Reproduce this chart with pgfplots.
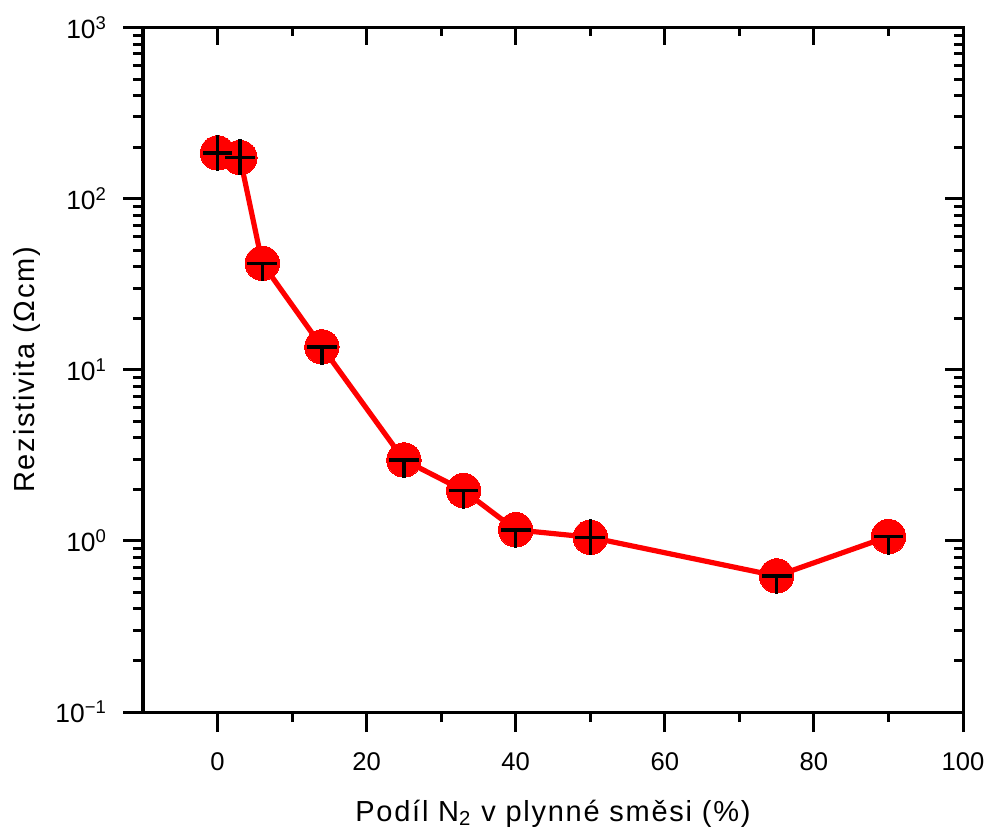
\documentclass[border=0pt]{standalone}
\usepackage{pgfplots}
\usepackage{pgfplotstable}
\pgfplotsset{compat=1.18}
\usepackage{fontspec}
\setmainfont{Liberation Sans}
\newfontfamily\labelfont[LetterSpace=6]{Liberation Sans}

\pgfplotstableread{
x   y
0   185
3   174
6   41.9
14  13.6
25  2.97
33  1.97
40  1.16
50  1.05
75  0.624
90  1.06
}\datatable

\pgfplotsset{
 common/.style={
  scale only axis, width=410pt, height=342.25pt,
  at={(0,0)}, anchor=south west,
  xmin=-10, xmax=100, ymin=0.1, ymax=1000,
  axis line style={line width=1.5pt},
  every tick/.style={line width=1.5pt, black},
  xtick={0,20,40,60,80,100}, minor x tick num=1,
  ytick={0.1,1,10,100,1000},
 }
}

\begin{document}
\begin{tikzpicture}
\useasboundingbox (-71.5pt,-59.5pt) rectangle (423.5pt,356pt);
\begin{axis}[ymode=log, common,
  tick align=outside, xtick pos=left, ytick pos=left,
  major tick length=10pt, minor tick length=5pt,
  xticklabels={0,20,40,60,80,100},
  yticklabels={10\textsuperscript{−1},10\textsuperscript{0},10\textsuperscript{1},10\textsuperscript{2},10\textsuperscript{3}},
  tick label style={font=\fontsize{12.8}{15}\selectfont},
  xticklabel style={yshift=-7pt},
  yticklabel style={xshift=-4.5pt, font=\fontsize{13.2}{15}\selectfont},
  xlabel={Podíl N\textsubscript{2} v plynné směsi (\%)},
  ylabel={Rezistivita (Ωcm)},
  xlabel style={font=\labelfont\fontsize{14.5}{17}\selectfont, at={(axis description cs:0.5,0)}, anchor=base, yshift=-54.5pt},
  ylabel style={font=\labelfont\fontsize{14.5}{17}\selectfont, at={(axis description cs:0,0.5)}, anchor=base, yshift=54pt},
  clip=false, clip marker paths=true,
]
\addplot[red, line width=2.6pt, mark=*, mark size=8.6pt, mark options={solid, fill=red, draw=red, line width=0pt}]
  table[x=x, y=y] {\datatable};
\addplot[black, mark=none, forget plot, draw=none,
  error bars/.cd, x dir=both, x explicit, y dir=both, y explicit,
  error mark=none, error bar style={draw=black, line width=1.7pt, solid}]
  coordinates {
  (0,185)   += (2,50.7)  -= (2,39.8)
  (3,174)   += (2,47.7)  -= (2,37.4)
  (6,41.9)  += (2,0)     -= (2,9.0)
  (14,13.6) += (2,0)     -= (2,2.92)
  (25,2.97) += (2,0)     -= (2,0.639)
  (33,1.97) += (2,0)     -= (2,0.424)
  (40,1.16) += (2,0)     -= (2,0.249)
  (50,1.05) += (2,0.288) -= (2,0.226)
  (75,0.624) += (2,0)    -= (2,0.134)
  (90,1.06) += (2,0)     -= (2,0.228)
  };
\end{axis}
\begin{axis}[ymode=log, common,
  tick align=inside, xtick pos=right, ytick pos=right,
  major tick length=9pt, minor tick length=4.5pt,
  xticklabels={}, yticklabels={},
]
\end{axis}
\end{tikzpicture}
\end{document}
